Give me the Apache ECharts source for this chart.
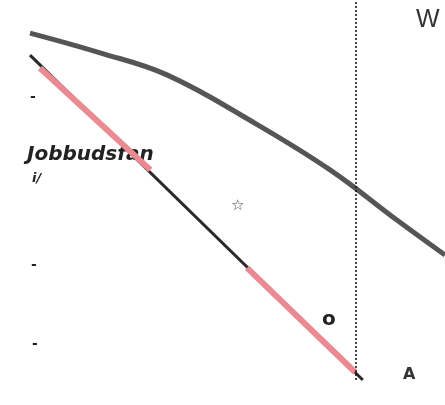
<!DOCTYPE html>
<html>
<head>
<meta charset="utf-8">
<script src="https://cdn.jsdelivr.net/npm/echarts@6/dist/echarts.min.js"></script>
<style>
  html, body { margin: 0; padding: 0; background: #fff; }
  #chart { width: 445px; height: 405px; }
</style>
</head>
<body>
<div id="chart"></div>
<script>
// gray curve (x, y)
const curveX = [0, 16.9, 33, 53.7, 72.3, 88.4, 100];
const curveY = [91.3, 86.1, 80.3, 67.9, 55.3, 42.1, 32.9];
// straight black line
const lineX = [0, 80.2];
const lineY = [85.5, 0];
// pink overlay pieces (null = gap)
const pinkX = [2.4, 29, null, 52.3, 78.3];
const pinkY = [82.1, 55.3, null, 29.5, 2.1];
// vertical dotted marker
const markerX = 78.6;

const pairs = (xs, ys) => xs.map((x, i) => (x === null ? [null, null] : [x, ys[i]]));

const chart = echarts.init(document.getElementById('chart'));
chart.setOption({
  animation: false,
  backgroundColor: '#ffffff',
  grid: { left: 30, right: 0, top: 0, bottom: 25 },
  xAxis: { type: 'value', min: 0, max: 100, show: false },
  yAxis: { type: 'value', min: 0, max: 100, show: false },
  series: [
    {
      type: 'line',
      data: pairs(curveX, curveY),
      smooth: 0.4,
      showSymbol: false,
      lineStyle: { color: '#555555', width: 5 },
      markLine: {
        symbol: 'none',
        silent: true,
        label: { show: false },
        lineStyle: { color: '#111111', type: [2, 2], width: 1.5 },
        data: [{ xAxis: markerX }]
      }
    },
    {
      type: 'line',
      data: pairs(lineX, lineY),
      showSymbol: false,
      lineStyle: { color: '#2a2a2a', width: 3 }
    },
    {
      type: 'line',
      data: pairs(pinkX, pinkY),
      connectNulls: false,
      showSymbol: false,
      lineStyle: { color: '#ea8a92', width: 6 }
    }
  ],
  graphic: [
    { type: 'text', left: 416, top: 8, style: { text: 'W', fill: '#333', font: '25px "Liberation Sans"' } },
    { type: 'text', left: 27, top: 145, style: { text: 'Jobbudsfan', fill: '#222', font: 'italic bold 20px "DejaVu Sans"' } },
    { type: 'text', left: 32, top: 172, style: { text: 'i/', fill: '#222', font: 'italic bold 13px "DejaVu Sans"' } },
    { type: 'text', left: 30, top: 90, style: { text: '-', fill: '#222', font: 'bold 14px "DejaVu Sans"' } },
    { type: 'text', left: 31, top: 258, style: { text: '-', fill: '#222', font: 'bold 14px "DejaVu Sans"' } },
    { type: 'text', left: 32, top: 337, style: { text: '-', fill: '#222', font: 'bold 14px "DejaVu Sans"' } },
    { type: 'text', left: 231, top: 199, style: { text: '☆', fill: '#444', font: '15px "DejaVu Sans"' } },
    { type: 'text', left: 322, top: 310, style: { text: 'o', fill: '#222', font: 'bold 20px "DejaVu Sans"' } },
    { type: 'text', left: 403, top: 367, style: { text: 'A', fill: '#333', font: 'bold 16px "DejaVu Sans"' } }
  ]
});
window.addEventListener('resize', () => chart.resize());
</script>
</body>
</html>
